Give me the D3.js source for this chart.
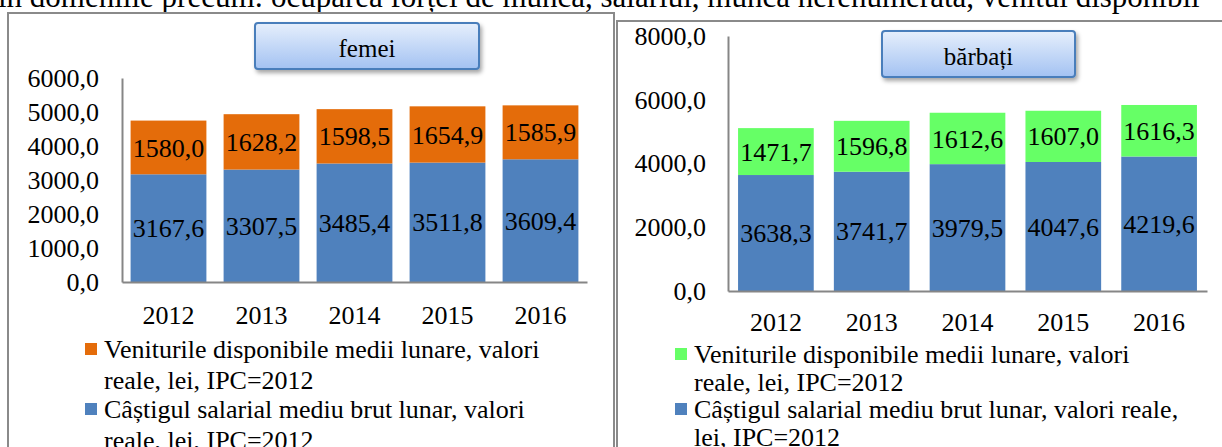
<!DOCTYPE html>
<html>
<head>
<meta charset="utf-8">
<script src="https://cdn.jsdelivr.net/npm/d3@7"></script>
<style>
  html, body { margin: 0; padding: 0; background: #fff; }
  svg { display: block; font-family: "Liberation Serif", "Times New Roman", serif; }
</style>
</head>
<body>
<svg id="chart" width="1222" height="447"></svg>
<script>
// values
const years = ['2012', '2013', '2014', '2015', '2016'];

const femeiSalariu = [3167.6, 3307.5, 3485.4, 3511.8, 3609.4];
const femeiVenit = [1580.0, 1628.2, 1598.5, 1654.9, 1585.9];

const barbatiSalariu = [3638.3, 3741.7, 3979.5, 4047.6, 4219.6];
const barbatiVenit = [1471.7, 1596.8, 1612.6, 1607.0, 1616.3];

const femeiTicks = [0, 1000, 2000, 3000, 4000, 5000, 6000];
const barbatiTicks = [0, 2000, 4000, 6000, 8000];

const titles = ['femei', 'bărbați'];
const topLine = 'în domeniile precum: ocuparea forței de muncă, salariul, munca nerenumerată, venitul disponibil';

const legendFemei = [
  ['Veniturile disponibile medii lunare, valori', 'reale, lei, IPC=2012'],
  ['Câștigul salarial mediu brut lunar, valori', 'reale, lei, IPC=2012']
];
const legendBarbati = [
  ['Veniturile disponibile medii lunare, valori', 'reale, lei, IPC=2012'],
  ['Câștigul salarial mediu brut lunar, valori reale,', 'lei, IPC=2012']
];

const blue = '#4f81bd',
    orange = '#e46c0a',
    green = '#66ff66',
    axisGrey = '#868686';

const fmt = d3.formatLocale({decimal: ',', thousands: '', grouping: [3]}).format('.1f');

const svg = d3.select('#chart');

const defs = svg.append('defs');
const grad = defs.append('linearGradient')
  .attr('id', 'titleFill')
  .attr('x1', 0).attr('y1', 0).attr('x2', 0).attr('y2', 1);
grad.append('stop').attr('offset', '0%').attr('stop-color', '#e6effc');
grad.append('stop').attr('offset', '100%').attr('stop-color', '#a3c2f2');

const shadow = defs.append('filter').attr('id', 'shadow')
  .attr('x', '-10%').attr('y', '-10%').attr('width', '130%').attr('height', '150%');
shadow.append('feDropShadow')
  .attr('dx', 2).attr('dy', 3).attr('stdDeviation', 2)
  .attr('flood-color', '#000').attr('flood-opacity', 0.35);

// text of the page above the charts, cut off at the top
svg.append('text')
  .attr('x', -2)
  .attr('y', 7)
  .attr('font-size', 31)
  .text(topLine);

const drawPanel = (p) => {
  const g = svg.append('g');

  // frame of the chart
  g.append('rect')
    .attr('x', p.frame[0]).attr('y', p.frame[1])
    .attr('width', p.frame[2]).attr('height', 500)
    .attr('fill', '#fff')
    .attr('stroke', '#8a8a8a')
    .attr('stroke-width', 2);

  const x = d3.scaleBand()
    .domain(years)
    .range([p.left, p.right])
    .paddingInner(p.pad)
    .paddingOuter(p.pad / 2);

  const y = d3.scaleLinear()
    .domain([0, p.max])
    .range([p.bottom, p.top]);

  const rows = years.map((yr, i) => ({year: yr, salariu: p.salariu[i], venit: p.venit[i]}));
  const series = d3.stack().keys(['salariu', 'venit'])(rows);
  const colors = {salariu: blue, venit: p.color};

  const layers = g.selectAll('.layer')
    .data(series)
    .join('g')
    .attr('fill', d => colors[d.key]);

  layers.selectAll('rect')
    .data(d => d)
    .join('rect')
    .attr('x', d => x(d.data.year))
    .attr('y', d => y(d[1]))
    .attr('width', x.bandwidth())
    .attr('height', d => y(d[0]) - y(d[1]));

  layers.selectAll('text')
    .data(d => d)
    .join('text')
    .attr('x', d => x(d.data.year) + x.bandwidth() / 2)
    .attr('y', d => (y(d[0]) + y(d[1])) / 2)
    .attr('dy', '0.35em')
    .attr('text-anchor', 'middle')
    .attr('font-size', 26)
    .attr('fill', '#000')
    .text(d => fmt(d[1] - d[0]));

  const yAxis = g.append('g')
    .attr('transform', `translate(${p.left},0)`)
    .call(d3.axisLeft(y).tickValues(p.ticks).tickSize(0).tickSizeOuter(0).tickPadding(p.labelGap).tickFormat(fmt))
    .attr('font-family', null)
    .attr('font-size', 26);
  yAxis.select('.domain').attr('stroke', axisGrey).attr('stroke-width', 2);
  yAxis.selectAll('text').attr('fill', '#000');

  const xAxis = g.append('g')
    .attr('transform', `translate(0,${p.bottom})`)
    .call(d3.axisBottom(x).tickSize(0).tickSizeOuter(0))
    .attr('font-family', null)
    .attr('font-size', 26);
  xAxis.select('.domain').attr('stroke', axisGrey).attr('stroke-width', 2);
  xAxis.selectAll('text')
    .attr('y', p.yearGap)
    .attr('dy', '0.35em')
    .attr('fill', '#000');

  // title box
  g.append('rect')
    .attr('x', p.box[0]).attr('y', p.box[1])
    .attr('width', p.box[2]).attr('height', p.box[3])
    .attr('rx', 3)
    .attr('fill', 'url(#titleFill)')
    .attr('stroke', '#4a7ebb')
    .attr('stroke-width', 2)
    .attr('filter', 'url(#shadow)');
  g.append('text')
    .attr('x', p.box[0] + p.box[2] / 2)
    .attr('y', p.box[1] + p.box[3] / 2 + 11)
    .attr('text-anchor', 'middle')
    .attr('font-size', 25)
    .text(p.title);

  // legend
  const legendColors = [p.color, blue];
  p.legend.forEach((lines, i) => {
    const cy = p.legendY[i];
    g.append('rect')
      .attr('x', p.legendX).attr('y', cy - 6)
      .attr('width', 12).attr('height', 12)
      .attr('fill', legendColors[i]);
    lines.forEach((line, j) => {
      g.append('text')
        .attr('x', p.legendX + 19)
        .attr('y', cy + j * p.lineStep)
        .attr('dy', '0.35em')
        .attr('font-size', 26)
        .text(line);
    });
  });
};

drawPanel({
  frame: [8, 13, 606],
  left: 122, right: 587, top: 78, bottom: 282,
  pad: 0.185, max: 6000, ticks: femeiTicks, labelGap: 23, yearGap: 33,
  salariu: femeiSalariu, venit: femeiVenit, color: orange,
  box: [255, 23, 224, 46], title: titles[0],
  legend: legendFemei, legendX: 85, legendY: [349, 409], lineStep: 31
});

drawPanel({
  frame: [617, 21, 640],
  left: 728, right: 1207, top: 36, bottom: 291,
  pad: 0.21, max: 8000, ticks: barbatiTicks, labelGap: 22, yearGap: 31,
  salariu: barbatiSalariu, venit: barbatiVenit, color: green,
  box: [882, 31, 193, 46], title: titles[1],
  legend: legendBarbati, legendX: 675, legendY: [354, 409], lineStep: 28
});
</script>
</body>
</html>
